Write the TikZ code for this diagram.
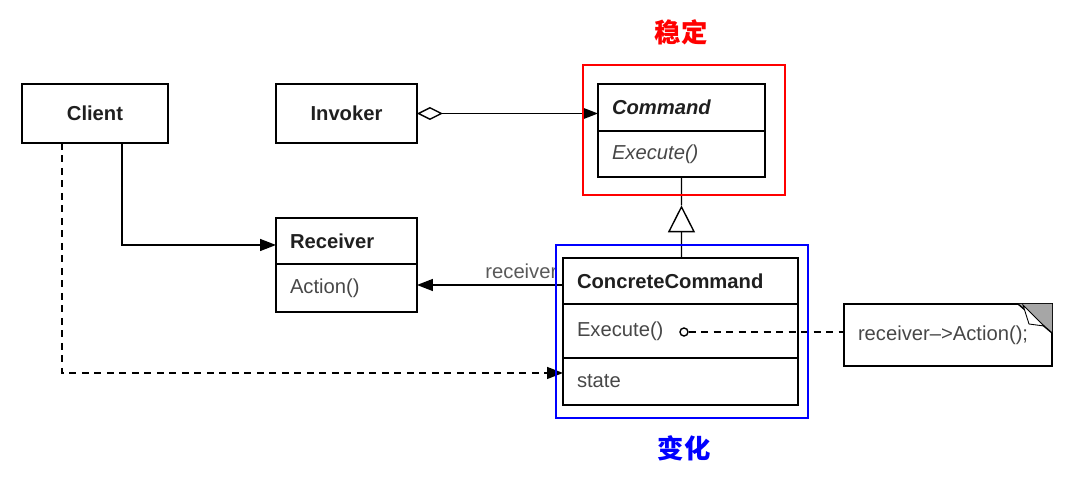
\documentclass[tikz,border=0pt]{standalone}
\usepackage{fontspec}
\setmainfont{Liberation Sans}
\newfontfamily\cjk{Noto Sans CJK SC}
\usetikzlibrary{positioning,arrows.meta,calc}
\newcommand{\umlfont}{\fontsize{11.5}{14}\selectfont}
\newcommand{\tagfont}{\cjk\fontsize{15}{18}\selectfont\bfseries}

\begin{document}
\begin{tikzpicture}[x=0.02cm,y=-0.02cm,every path/.append style={line width=0.8pt},
	cls/.style={draw,outer sep=0pt,inner xsep=0.28cm,inner ysep=0pt,align=left,text=black!72,font=\umlfont},
	hd/.style={cls,text=black!88,font=\umlfont\bfseries},
	assoc/.style={-{Triangle[length=0.32cm,width=0.24cm]}},
	dep/.style={dash pattern=on 0.14cm off 0.11cm},
	frame/.style={line width=1.4pt}]
\useasboundingbox (0,0) rectangle (1069,486);
% classes
\node(client) [hd,align=center,minimum width=2.92cm,minimum height=1.18cm,anchor=north west] at (22,84) {Client};
\node(invoker) [hd,align=center,minimum width=2.82cm,minimum height=1.18cm,anchor=north west] at (276,84) {Invoker};
\node(rcvhead) [hd,text width=2.26cm,minimum height=0.92cm,anchor=north west] at (276,218) {Receiver};
\node(rcvops) [cls,text width=2.26cm,minimum height=0.96cm,below=0pt of rcvhead] {Action()};
\node(cmdhead) [hd,font=\umlfont\bfseries\itshape,text width=2.78cm,minimum height=0.94cm,anchor=north west] at (598,84) {Command};
\node(cmdops) [cls,font=\umlfont\itshape,text width=2.78cm,minimum height=0.92cm,below=0pt of cmdhead] {Execute()};
\node(cchead) [hd,text width=4.14cm,minimum height=0.92cm,anchor=north west] at (563,258) {ConcreteCommand};
\node(ccops) [cls,text width=4.14cm,minimum height=1.08cm,below=0pt of cchead] {Execute()};
\node(ccstate) [cls,text width=4.14cm,minimum height=0.94cm,below=0pt of ccops] {state};
\node(note) [cls,text width=3.6cm,minimum height=1.24cm,anchor=north west] at (844,304) {receiver--{}>Action();};
\node(execdot) [circle,draw,fill=white,inner sep=0pt,minimum size=0.16cm] at (684,332) {};
% dog-ear of the note
\fill[black!35] (1018,304) -- (1052,304) -- (1052,333) -- cycle;
\draw (1018,304) -- (1052,333);
\draw[fill=white,line width=0.5pt] (1023,305) -- (1029,324) -- (1044,326) -- cycle;
% connectors
\draw[{Diamond[open,length=0.52cm,width=0.26cm]}-{Triangle[length=0.32cm,width=0.24cm]}] (invoker.east) -- (invoker.east -| cmdhead.west);
\draw[assoc] ([xshift=0.54cm]client.south) |- ([yshift=-0.08cm]rcvhead.west);
\draw[assoc,dep] ([xshift=-0.66cm]client.south) |- ([yshift=0.17cm]ccstate.west);
\draw[assoc] ([yshift=-0.08cm]cchead.west) -- ([yshift=-0.08cm]cchead.west -| rcvops.east)
	node [pos=0,anchor=south east,xshift=-0.1cm,yshift=0.12cm,inner sep=0pt,text=black!65,font=\umlfont] {receiver};
\coordinate (gen) at ($(cmdops.south)!0.35!(cmdops.south |- cchead.north)$);
\draw (cmdops.south) -- (gen);
\draw[-{Triangle[open,length=0.54cm,width=0.54cm]}] (cmdops.south |- cchead.north) -- (gen);
\draw[dep] (execdot) -- (execdot -| note.west);
% stable / changing parts
\draw[red,frame] (583,65) rectangle (785,195);
\draw[blue,frame] (556,245) rectangle (808,418);
\node(stable) [text=red,font=\tagfont] at (681,32) {稳定};
\node(change) [text=blue,font=\tagfont] at (684,448) {变化};
\end{tikzpicture}
\end{document}
